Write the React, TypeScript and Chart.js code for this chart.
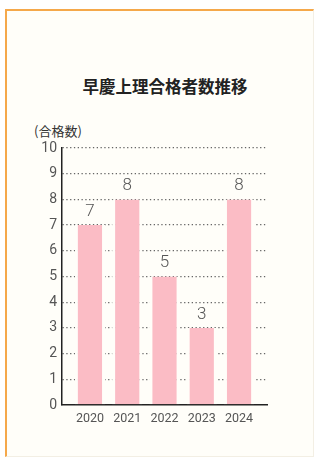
import React, { useEffect, useRef } from "react";
import { Chart, registerables } from "chart.js";

Chart.register(...registerables);

const years = ["2020", "2021", "2022", "2023", "2024"];
const passCounts = [7, 8, 5, 3, 8];
const yTicks = [0, 1, 2, 3, 4, 5, 6, 7, 8, 9, 10];
const titleText = "早慶上理合格者数推移";
const unitText = "(合格数)";

const valueLabelPlugin = {
  id: "valueLabels",
  afterDatasetsDraw(chart: any) {
    const ctx = chart.ctx;
    const meta = chart.getDatasetMeta(0);
    ctx.save();
    ctx.font = "300 17px Roboto, 'Liberation Sans', Arial, sans-serif";
    ctx.fillStyle = "#555";
    ctx.textAlign = "center";
    ctx.textBaseline = "bottom";
    meta.data.forEach((bar: any, i: number) => {
      ctx.fillText(String(passCounts[i]), bar.x, bar.y - 5);
    });
    ctx.restore();
  },
};

export default function App() {
  const ref = useRef<HTMLCanvasElement | null>(null);

  useEffect(() => {
    if (!ref.current) return;
    const chart = new Chart(ref.current, {
      type: "bar",
      data: {
        datasets: [
          {
            data: passCounts.map((v, i) => ({ x: i, y: v })),
            backgroundColor: "#fbbcc5",
            borderColor: "#fffef9",
            borderWidth: { left: 3, right: 3, top: 0, bottom: 0 },
            borderSkipped: false,
            categoryPercentage: 1,
            barPercentage: 0.81,
          },
        ],
      },
      options: {
        animation: false,
        responsive: false,
        maintainAspectRatio: false,
        layout: { padding: { left: 32, right: 50, top: 148, bottom: 30 } },
        plugins: {
          legend: { display: false },
          tooltip: { enabled: false },
          title: { display: false },
        },
        scales: {
          x: {
            type: "linear",
            offset: false,
            min: -0.75,
            max: 4.75,
            afterBuildTicks: (scale: any) => {
              scale.ticks = years.map((_, i) => ({ value: i }));
            },
            afterFit: (scale: any) => {
              scale.height = 26;
            },
            ticks: {
              autoSkip: false,
              maxRotation: 0,
              padding: 6,
              color: "#555",
              font: { size: 12.5, family: "Roboto, 'Liberation Sans', Arial, sans-serif" },
              callback: (v: any) => years[v] ?? "",
            },
            grid: { display: false, drawTicks: false },
            border: { display: true, color: "#222", width: 1.5 },
          },
          y: {
            type: "linear",
            min: 0,
            max: 10,
            afterBuildTicks: (scale: any) => {
              scale.ticks = yTicks.map((v) => ({ value: v }));
            },
            afterFit: (scale: any) => {
              scale.width = 30;
            },
            ticks: {
              padding: 5,
              color: "#555",
              font: { size: 14, family: "Roboto, 'Liberation Sans', Arial, sans-serif" },
            },
            grid: {
              drawTicks: false,
              color: (c: any) => (c.tick && c.tick.value === 0 ? "rgba(0,0,0,0)" : "#666"),
              lineWidth: 1.3,
            },
            border: { display: true, color: "#222", width: 1.5, dash: [1.3, 2.5] },
          },
        },
      },
      plugins: [valueLabelPlugin],
    } as any);
    return () => chart.destroy();
  }, []);

  return (
    <div
      style={{
        position: "fixed",
        left: 0,
        top: 0,
        width: 317,
        height: 461,
        background: "#ffffff",
        overflow: "hidden",
      }}
    >
      <div
        style={{
          position: "absolute",
          left: 5,
          top: 9,
          width: 306,
          height: 445,
          background: "#fffef9",
          borderLeft: "2px solid #f5a84a",
          borderTop: "2px solid #f5a84a",
          borderRight: "1px solid #f3efe4",
          borderBottom: "1px solid #f3efe4",
        }}
      />
      <div
        style={{
          position: "absolute",
          left: 0,
          width: 330,
          top: 74,
          textAlign: "center",
          fontFamily: "'Noto Sans CJK JP', sans-serif",
          fontWeight: 700,
          fontSize: 16.5,
          lineHeight: "24px",
          color: "#222",
        }}
      >
        {titleText}
      </div>
      <div
        style={{
          position: "absolute",
          left: 34,
          top: 121,
          fontFamily: "'Noto Sans CJK JP', sans-serif",
          fontSize: 13,
          lineHeight: "20px",
          color: "#333",
          whiteSpace: "nowrap",
        }}
      >
        {unitText}
      </div>
      <canvas
        ref={ref}
        width={317}
        height={461}
        style={{ position: "absolute", left: 0, top: 0, width: 317, height: 461 }}
      />
    </div>
  );
}
